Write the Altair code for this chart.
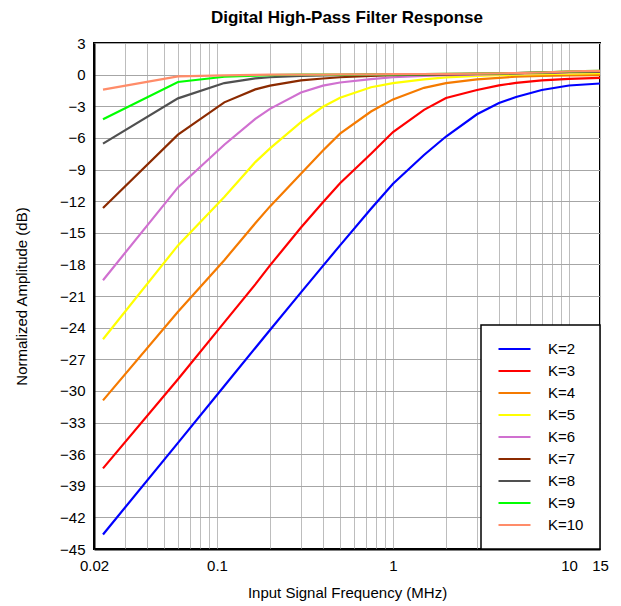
import altair as alt
import pandas as pd

# frequencies (MHz) at which the curves were read
freq = [0.0225, 0.06, 0.11, 0.165, 0.2, 0.3, 0.4, 0.5, 0.75, 1, 1.5, 2, 3, 4, 5, 7, 10, 15]

k2 = [-43.62, -34.93, -29.54, -25.93, -24.23, -20.66, -18.14, -16.2, -12.73, -10.35, -7.62, -5.87, -3.76, -2.7, -2.12, -1.46, -1.03, -0.84]
k3 = [-37.35, -28.9, -23.5, -19.9, -18.1, -14.5, -12.1, -10.3, -7.5, -5.45, -3.34, -2.22, -1.46, -1.02, -0.78, -0.55, -0.4, -0.3]
k4 = [-30.9, -22.5, -17.6, -14.1, -12.5, -9.4, -7.2, -5.6, -3.5, -2.35, -1.25, -0.8, -0.45, -0.3, -0.2, -0.12, -0.07, -0.05]
k5 = [-25.1, -16.2, -11.6, -8.3, -7.0, -4.5, -3.05, -2.2, -1.2, -0.8, -0.45, -0.27, -0.12, -0.05, 0.0, 0.05, 0.1, 0.15]
k6 = [-19.5, -10.7, -6.65, -4.2, -3.25, -1.7, -1.05, -0.75, -0.42, -0.25, -0.12, -0.05, 0.0, 0.05, 0.1, 0.15, 0.2, 0.25]
k7 = [-12.65, -5.7, -2.63, -1.4, -1.05, -0.55, -0.37, -0.25, -0.12, -0.05, 0.0, 0.03, 0.08, 0.1, 0.15, 0.2, 0.25, 0.3]
k8 = [-6.55, -2.25, -0.8, -0.35, -0.25, -0.12, -0.07, -0.05, 0.0, 0.0, 0.03, 0.05, 0.08, 0.1, 0.15, 0.2, 0.25, 0.3]
k9 = [-4.24, -0.7, -0.2, -0.1, -0.05, 0.0, 0.0, 0.0, 0.02, 0.03, 0.05, 0.07, 0.1, 0.12, 0.15, 0.2, 0.3, 0.35]
k10 = [-1.43, -0.16, -0.07, -0.03, 0.0, 0.0, 0.0, 0.02, 0.03, 0.04, 0.06, 0.08, 0.1, 0.12, 0.15, 0.2, 0.3, 0.35]

series_names = ["K=2", "K=3", "K=4", "K=5", "K=6", "K=7", "K=8", "K=9", "K=10"]
series_values = [k2, k3, k4, k5, k6, k7, k8, k9, k10]
series_colors = ["#0000FF", "#FF0000", "#F57A00", "#FFFF00", "#D070D0",
                 "#8B2A00", "#505050", "#00FF00", "#FF8C69"]

x_grid_values = [0.02, 0.03, 0.04, 0.05, 0.06, 0.07, 0.08, 0.09,
                 0.1, 0.2, 0.3, 0.4, 0.5, 0.6, 0.7, 0.8, 0.9,
                 1, 2, 3, 4, 5, 6, 7, 8, 9, 10, 15]
x_label_values = [0.02, 0.1, 1, 10, 15]
y_tick_values = list(range(-45, 4, 3))

rows = []
for name, vals in zip(series_names, series_values):
    for f, v in zip(freq, vals):
        rows.append({"K": name, "freq": f, "amp": v})
df = pd.DataFrame(rows)

FONT = "Liberation Sans"

label_test = " || ".join(f"datum.value == {v}" for v in x_label_values)

chart = alt.Chart(df).mark_line(strokeWidth=2.2, interpolate="linear").encode(
    x=alt.X("freq:Q",
            scale=alt.Scale(type="log", domain=[0.02, 15], nice=False),
            axis=alt.Axis(title="Input Signal Frequency (MHz)", values=x_grid_values,
                          labelExpr=f"({label_test}) ? format(datum.value, '~g') : ''",
                          labelOverlap=False, labelFlush=False, ticks=False,
                          gridColor="#BDBDBD", labelPadding=9, titlePadding=12)),
    y=alt.Y("amp:Q",
            scale=alt.Scale(domain=[-45, 3], nice=False, zero=False),
            axis=alt.Axis(title="Normalized Amplitude (dB)", values=y_tick_values,
                          ticks=False, gridColor="#A6A6A6", labelPadding=9,
                          titlePadding=30)),
    color=alt.Color("K:N",
                    scale=alt.Scale(domain=series_names, range=series_colors),
                    sort=series_names,
                    legend=alt.Legend(title=None, orient="none", legendX=387, legendY=282,
                                      symbolType="stroke", symbolSize=1024,
                                      symbolStrokeWidth=2.2, clipHeight=16,
                                      rowPadding=6, labelOffset=16, padding=16,
                                      fillColor="white", strokeColor="black",
                                      labelFont=FONT, labelFontSize=15,
                                      labelColor="black")),
    order=alt.Order("korder:Q"),
).transform_calculate(
    korder=f"indexof({series_names!r}, datum.K)"
).properties(
    width=506, height=506,
    title=alt.Title("Digital High-Pass Filter Response", font=FONT, fontSize=17,
                    fontWeight="bold", color="black", offset=9),
    autosize=alt.AutoSizeParams(type="none"),
    padding={"left": 86, "top": 35, "right": 13, "bottom": 57},
).configure_view(
    stroke="black", strokeWidth=2
).configure_axis(
    labelFont=FONT, labelFontSize=15, labelColor="black",
    titleFont=FONT, titleFontSize=15, titleColor="black", titleFontWeight="normal",
    domainColor="black", domainWidth=2, gridWidth=1, gridOpacity=1,
).configure_legend(
    strokeWidth=1.5
)

chart.save("out.html", embed_options={"renderer": "svg", "actions": False})
